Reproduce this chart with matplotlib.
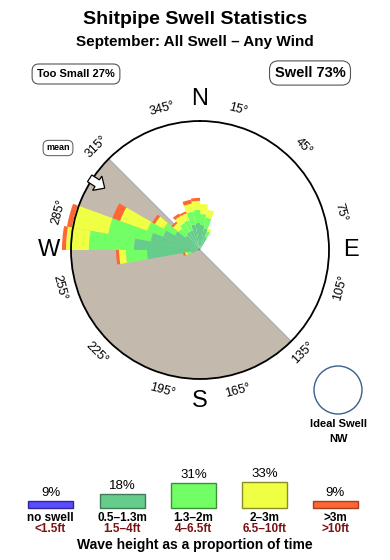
import numpy as np
import matplotlib
matplotlib.use("Agg")
import matplotlib.pyplot as plt
from matplotlib.patches import Polygon

plt.rcParams['font.family'] = ['Liberation Sans', 'DejaVu Sans']

# ---------------- data ----------------
title = "Shitpipe Swell Statistics"
subtitle = "September: All Swell \u2013 Any Wind"
too_small_pct = 27
swell_pct = 73
mean_dir = 303
ideal_dir_label = "NW"
shadow_start = 135   # degrees, sheltered sector (clockwise from here)
shadow_end = 315

# direction bins (centre, degrees), bin width 10
dirs = [255, 265, 275, 285, 295, 305, 315, 325, 335, 345, 355, 5, 15, 25]
# radial share per wave-height class (rose units, circle = 100)
no_swell = [0.8, 0.8, 1.6, 1.6, 1.6, 1.6, 0.8, 0.8, 0.8, 1.6, 1.6, 1.6, 0.8, 0.0]
h_05_13 = [6.2, 40.3, 49.6, 37.2, 28.7, 20.9, 14.0, 15.5, 15.5, 18.6, 19.4, 17.8, 16.3, 10.9]
h_13_2 = [3.1, 16.3, 34.9, 33.3, 13.2, 10.1, 7.0, 7.8, 8.5, 10.1, 10.1, 8.5, 8.5, 4.7]
h_2_3 = [1.6, 5.4, 17.8, 28.7, 22.5, 7.8, 5.4, 6.2, 5.4, 6.2, 7.0, 7.8, 6.2, 2.3]
h_gt3 = [1.6, 2.3, 3.1, 3.9, 6.2, 2.3, 1.6, 2.3, 1.6, 3.1, 2.3, 0.0, 0.0, 0.0]

class_pct = [9, 18, 31, 33, 9]
class_m = ["no swell", "0.5\u20131.3m", "1.3\u20132m", "2\u20133m", ">3m"]
class_ft = ["<1.5ft", "1.5\u20134ft", "4\u20136.5ft", "6.5\u201310ft", ">10ft"]
class_colors = ['#5a4cff', '#66cc8c', '#72ff66', '#efff44', '#ff6633']
class_edges = ['#2e2899', '#3f7d57', '#3f8f3a', '#8c8c22', '#a33e1f']

tick_deg = list(range(15, 360, 30))
compass = [('N', 0), ('E', 90), ('S', 180), ('W', 270)]

# ---------------- figure ----------------
W, H = 390, 560
fig = plt.figure(figsize=(3.9, 5.6), dpi=100)
ax0 = fig.add_axes([0, 0, 1, 1])
ax0.set_xlim(0, W)
ax0.set_ylim(H, 0)
ax0.axis('off')

cx, cy, R = 200, 250, 129
RMAX = 100.0
axp = fig.add_axes([(cx - R) / W, (H - cy - R) / H, 2 * R / W, 2 * R / H],
                   projection='polar')
axp.set_theta_zero_location('N')
axp.set_theta_direction(-1)
axp.set_ylim(0, RMAX)
axp.set_facecolor('none')
axp.grid(False)
axp.set_yticks([])
axp.set_xticks(np.radians(tick_deg))
axp.set_xticklabels([])
axp.tick_params(axis='x', direction='inout', length=7, width=1, colors='black', pad=0)
axp.spines['polar'].set_linewidth(1.3)
axp.spines['polar'].set_zorder(5)

# sheltered sector
span = (shadow_end - shadow_start) % 360
axp.bar(np.radians(shadow_start + span / 2), RMAX, width=np.radians(span), bottom=0,
        color='#c4b9ad', edgecolor='#a3abb8', linewidth=0.7, zorder=0.5)

# stacked rose
theta = np.radians(dirs)
bottom = np.zeros(len(dirs))
for vals, col in zip([no_swell, h_05_13, h_13_2, h_2_3, h_gt3], class_colors):
    vals = np.array(vals)
    axp.bar(theta, vals, width=np.radians(10), bottom=bottom, color=col,
            linewidth=0, clip_on=False, zorder=1)
    bottom = bottom + vals

# degree labels
for b in tick_deg:
    rot = -b if (b <= 90 or b >= 270) else 180 - b
    axp.text(np.radians(b), 113, f"{b}\u00b0", rotation=rot, rotation_mode='anchor',
             ha='center', va='center', fontsize=9, clip_on=False)
for lab, b in compass:
    axp.text(np.radians(b), 117, lab, ha='center', va='center', fontsize=17, clip_on=False)

# mean arrow (block arrow pointing to the centre, drawn in pixel space)
start = ax0.transData.inverted().transform(
    axp.transData.transform((np.radians(mean_dir), 102)))
b = np.radians(mean_dir)
inward = np.array([-np.sin(b), np.cos(b)])
perp = np.array([np.cos(b), np.sin(b)])
shape = [(0, -4), (9, -4), (9, -8.5), (18, 0), (9, 8.5), (9, 4), (0, 4)]
pts = [start + u * inward + v * perp for u, v in shape]
axp.add_patch(Polygon(pts, closed=True, fc='white', ec='black', lw=0.9, zorder=6,
                      transform=ax0.transData, clip_on=False))

# titles
ax0.text(W / 2, 20, title, ha='center', va='center', fontsize=14, fontweight='bold')
ax0.text(W / 2, 42, subtitle, ha='center', va='center', fontsize=11, fontweight='bold')
ax0.text(76, 74, f"Too Small {too_small_pct}%", ha='center', va='center', fontsize=8,
         fontweight='bold',
         bbox=dict(boxstyle='round,pad=0.45,rounding_size=0.6', fc='white', ec='#555555', lw=0.8))
ax0.text(310, 73, f"Swell {swell_pct}%", ha='center', va='center', fontsize=10.5,
         fontweight='bold',
         bbox=dict(boxstyle='round,pad=0.35,rounding_size=0.6', fc='white', ec='#555555', lw=0.8))
ax0.text(58, 148, "mean", ha='center', va='center', fontsize=6.5, fontweight='bold',
         bbox=dict(boxstyle='round,pad=0.35,rounding_size=0.6', fc='white', ec='#555555', lw=0.7))

# ideal swell
ax0.add_patch(plt.Circle((338, 390), 24, fill=False, ec='#3a5f8a', lw=1.0))
ax0.text(338, 424, "Ideal Swell", ha='center', va='center', fontsize=8, fontweight='bold')
ax0.text(338, 439, ideal_dir_label, ha='center', va='center', fontsize=8, fontweight='bold')

# legend
leg_x = np.array([50.5, 122, 193.5, 264.5, 335])
leg_base = 508
heights = np.array(class_pct) * 0.8
ax0.bar(leg_x, -heights, bottom=leg_base, width=45, color=class_colors,
        edgecolor=class_edges, linewidth=1)
for x, h, p, m, ft in zip(leg_x, heights, class_pct, class_m, class_ft):
    ax0.text(x, leg_base - h - 8, f"{p}%", ha='center', va='center', fontsize=9.5)
    ax0.text(x, 518, m, ha='center', va='center', fontsize=8.5, fontweight='bold')
    ax0.text(x, 529, ft, ha='center', va='center', fontsize=8.5, fontweight='bold',
             color='#7a1212')
ax0.text(W / 2, 545, "Wave height as a proportion of time", ha='center', va='center',
         fontsize=10, fontweight='bold')

fig.savefig('out.png', dpi=100)
